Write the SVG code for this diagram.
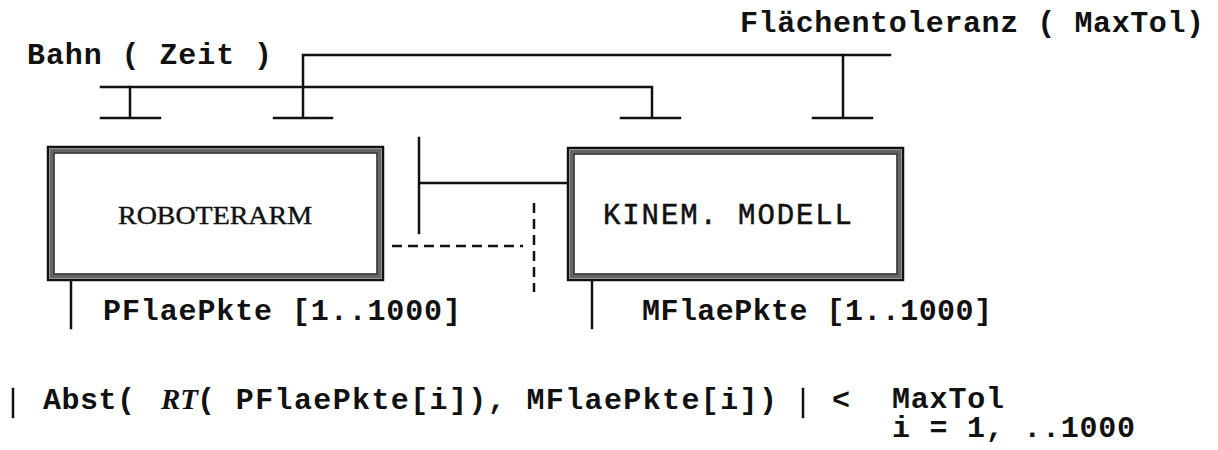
<svg xmlns="http://www.w3.org/2000/svg" width="1218" height="450" viewBox="0 0 1218 450">
<style>
.mono{font-family:"Liberation Mono","Courier New",monospace;font-weight:bold;font-size:30px;fill:#111}
.ln{stroke:#111;stroke-width:2.5;fill:none;stroke-linecap:square}
.dash{stroke:#111;stroke-width:2.5;fill:none;stroke-dasharray:10,6}
.frame-o{fill:#fff;stroke:#111;stroke-width:2.5}
.frame-m{fill:none;stroke:#666;stroke-width:4}
.frame-i{fill:none;stroke:#222;stroke-width:1.5}
</style>
<rect width="1218" height="450" fill="#fff"/>
<g id="labels">
<text class="mono" x="27" y="64" textLength="245" lengthAdjust="spacing">Bahn ( Zeit )</text>
<text class="mono" x="740" y="32" textLength="464" lengthAdjust="spacing">Flächentoleranz ( MaxTol)</text>
</g>
<g id="connectors">
<path class="ln" d="M303 55 H890 M303 55 V118 M274 118 H332"/>
<path class="ln" d="M101 87 H652 V118 M621 118 H680"/>
<path class="ln" d="M130 87 V118 M101 118 H160"/>
<path class="ln" d="M843 55 V118 M813 118 H872"/>
<path class="ln" d="M419 138 V233 M419 183 H568"/>
<path class="dash" d="M392 246 H523"/>
<path class="dash" d="M534 203 V292"/>
<path class="ln" d="M71 280 V328"/>
<path class="ln" d="M592 280 V328"/>
</g>
<g id="roboterarm">
<rect class="frame-o" x="48" y="147" width="335" height="133"/>
<rect class="frame-m" x="51.5" y="150.5" width="328" height="126"/>
<rect class="frame-i" x="54" y="153" width="323" height="121"/>
<text x="118" y="224" font-family="Liberation Serif, Times New Roman, serif" font-size="26" stroke="#111" stroke-width="0.4" textLength="194" lengthAdjust="spacingAndGlyphs" fill="#111">ROBOTERARM</text>
</g>
<g id="kinem-modell">
<rect class="frame-o" x="568" y="148" width="335" height="132"/>
<rect class="frame-m" x="571.5" y="151.5" width="328" height="125"/>
<rect class="frame-i" x="574" y="154" width="323" height="120"/>
<text x="603" y="224" font-family="Liberation Mono, Courier New, monospace" font-size="29" stroke="#111" stroke-width="0.5" textLength="249" lengthAdjust="spacing" fill="#111">KINEM. MODELL</text>
</g>
<g id="arrays">
<text class="mono" x="103" y="320" textLength="358" lengthAdjust="spacing">PFlaePkte [1..1000]</text>
<text class="mono" x="642" y="320" textLength="350" lengthAdjust="spacing">MFlaePkte [1..1000]</text>
</g>
<g id="formula">
<path class="ln" d="M13 389 V417"/>
<text class="mono" x="43" y="409" textLength="92" lengthAdjust="spacing">Abst(</text>
<text x="161" y="409" font-family="Liberation Serif, Times New Roman, serif" font-weight="bold" font-style="italic" font-size="29" fill="#111">RT</text>
<text class="mono" x="197" y="409" textLength="580" lengthAdjust="spacing">( PFlaePkte[i]), MFlaePkte[i])</text>
<path class="ln" d="M803 389 V417"/>
<text class="mono" x="832" y="409">&lt;</text>
<text class="mono" x="892" y="408" textLength="112" lengthAdjust="spacing">MaxTol</text>
<text class="mono" x="892" y="437" font-size="29" textLength="243" lengthAdjust="spacing">i = 1, ..1000</text>
</g>
</svg>
